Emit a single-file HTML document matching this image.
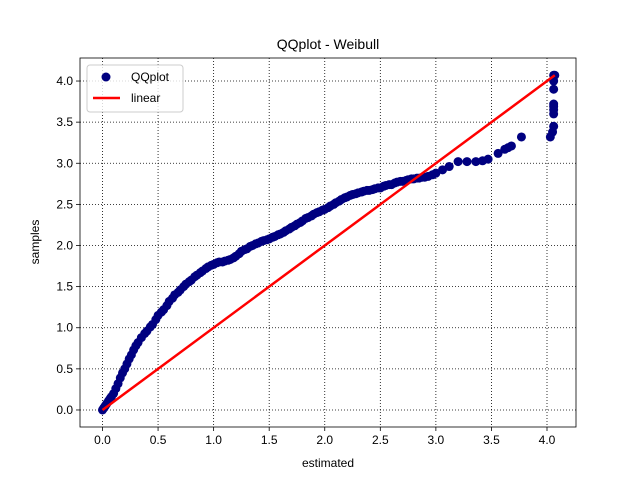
<!DOCTYPE html>
<html><head><meta charset="utf-8"><style>
html,body{margin:0;padding:0;background:#fff;}
svg{display:block;font-family:"Liberation Sans","DejaVu Sans",sans-serif;}
</style></head><body>
<svg id="chart" width="640" height="480"></svg>
<script>
const estimated=[0,0.01,0.02,0.03,0.04,0.05,0.06,0.07,0.08,0.1,0.12,0.14,0.16,0.18,0.2,0.22,0.24,0.26,0.28,0.3,0.32,0.35,0.38,0.4,0.43,0.45,0.48,0.5,0.53,0.55,0.58,0.6,0.63,0.65,0.68,0.7,0.73,0.75,0.78,0.8,0.83,0.85,0.88,0.9,0.93,0.95,0.98,1.0,1.03,1.05,1.08,1.1,1.13,1.15,1.18,1.2,1.23,1.25,1.28,1.3,1.33,1.35,1.38,1.4,1.43,1.45,1.48,1.5,1.53,1.55,1.58,1.6,1.63,1.65,1.68,1.7,1.73,1.75,1.78,1.8,1.83,1.85,1.88,1.9,1.93,1.95,1.98,2.0,2.03,2.05,2.08,2.1,2.13,2.15,2.18,2.2,2.23,2.25,2.28,2.3,2.33,2.35,2.38,2.4,2.43,2.45,2.48,2.5,2.53,2.55,2.58,2.6,2.63,2.65,2.68,2.7,2.73,2.75,2.78,2.8,2.83,2.85,2.88,2.9,2.93,2.97,3.0,3.06,3.12,3.2,3.28,3.36,3.42,3.47,3.56,3.62,3.65,3.68,3.77,4.03,4.05,4.06,4.06,4.06,4.06,4.06,4.06,4.06,4.06,4.07];
const samples=[0,0.02,0.04,0.06,0.08,0.1,0.12,0.14,0.16,0.2,0.26,0.32,0.39,0.45,0.5,0.56,0.62,0.67,0.73,0.78,0.82,0.88,0.93,0.96,1.01,1.04,1.1,1.15,1.19,1.22,1.27,1.32,1.36,1.4,1.43,1.46,1.5,1.53,1.56,1.58,1.62,1.64,1.67,1.69,1.72,1.74,1.76,1.77,1.79,1.8,1.8,1.81,1.82,1.83,1.85,1.87,1.9,1.93,1.95,1.96,1.99,2.0,2.02,2.03,2.05,2.06,2.07,2.08,2.1,2.11,2.13,2.14,2.16,2.18,2.2,2.22,2.24,2.26,2.28,2.3,2.33,2.34,2.36,2.38,2.4,2.41,2.43,2.44,2.46,2.48,2.5,2.52,2.54,2.56,2.58,2.59,2.61,2.62,2.63,2.64,2.65,2.66,2.67,2.67,2.68,2.69,2.7,2.7,2.72,2.73,2.74,2.74,2.76,2.77,2.78,2.78,2.79,2.8,2.81,2.81,2.82,2.82,2.83,2.83,2.84,2.86,2.88,2.92,2.96,3.02,3.02,3.02,3.03,3.05,3.12,3.17,3.19,3.21,3.32,3.32,3.38,3.45,3.6,3.65,3.69,3.72,3.9,4.0,4.07,4.07];
const xTicks=[0,0.5,1,1.5,2,2.5,3,3.5,4];
const yTicks=[0,0.5,1,1.5,2,2.5,3,3.5,4];
const lineEnds=[0,4.07];
const L=80,R=576,T=58,B=427;
const xmin=-0.2025,xmax=4.261,ymin=-0.207,ymax=4.28;
const X=v=>L+(v-xmin)/(xmax-xmin)*(R-L);
const Y=v=>B-(v-ymin)/(ymax-ymin)*(B-T);
const svg=document.getElementById('chart');
const NS='http://www.w3.org/2000/svg';
function mk(tag,attrs,parent){const e=document.createElementNS(NS,tag);for(const k in attrs)e.setAttribute(k,attrs[k]);(parent||svg).appendChild(e);return e;}
const grid=mk('g',{});


xTicks.forEach(t=>{
 mk('line',{x1:X(t),x2:X(t),y1:T,y2:B,stroke:'#000','stroke-width':0.8,'stroke-dasharray':'1,2'},grid);
 const tk=mk('line',{x1:X(t),x2:X(t),y1:B,y2:B+4,stroke:'#000','stroke-width':0.8});
 
 
 const tx=mk('text',{x:X(t),y:B+17,'text-anchor':'middle','font-size':12});
 tx.textContent=t.toFixed(1);
 
 
});
yTicks.forEach(t=>{
 mk('line',{x1:L,x2:R,y1:Y(t),y2:Y(t),stroke:'#000','stroke-width':0.8,'stroke-dasharray':'1,2'},grid);
 const tk=mk('line',{x1:L-4,x2:L,y1:Y(t),y2:Y(t),stroke:'#000','stroke-width':0.8});
 
 
 const tx=mk('text',{x:L-7,y:Y(t)+4,'text-anchor':'end','font-size':12});
 tx.textContent=t.toFixed(1);
 
 
});
const pts=mk('g',{fill:'#000080'});


estimated.forEach((e,i)=>{
 const c=mk('circle',{cx:X(e),cy:Y(samples[i]),r:4.5},pts);
 
 
});
const ln=mk('line',{x1:X(lineEnds[0]),y1:Y(lineEnds[0]),x2:X(lineEnds[1]),y2:Y(lineEnds[1]),stroke:'#ff0000','stroke-width':2.5});


const fr=mk('rect',{x:L,y:T,width:R-L,height:B-T,fill:'none',stroke:'#000','stroke-width':0.8});


const ti=mk('text',{x:(L+R)/2,y:49,'text-anchor':'middle','font-size':14});
ti.textContent='QQplot - Weibull';


const xl=mk('text',{x:(L+R)/2,y:467,'text-anchor':'middle','font-size':12});
xl.textContent='estimated';


const yl=mk('text',{x:0,y:0,'text-anchor':'middle','font-size':12,transform:'translate(39,242) rotate(-90)'});
yl.textContent='samples';


const lg=mk('g',{});


mk('rect',{x:87,y:65,width:96,height:47,rx:3,fill:'#fff','fill-opacity':0.8,stroke:'#ccc'},lg);
mk('circle',{cx:106,cy:77,r:4.5,fill:'#000080'},lg);
const t1=mk('text',{x:131,y:81,'font-size':12},lg);t1.textContent='QQplot';


mk('line',{x1:93,x2:120,y1:98,y2:98,stroke:'#ff0000','stroke-width':2.5},lg);
const t2=mk('text',{x:131,y:102,'font-size':12},lg);t2.textContent='linear';


</script>
</body></html>
